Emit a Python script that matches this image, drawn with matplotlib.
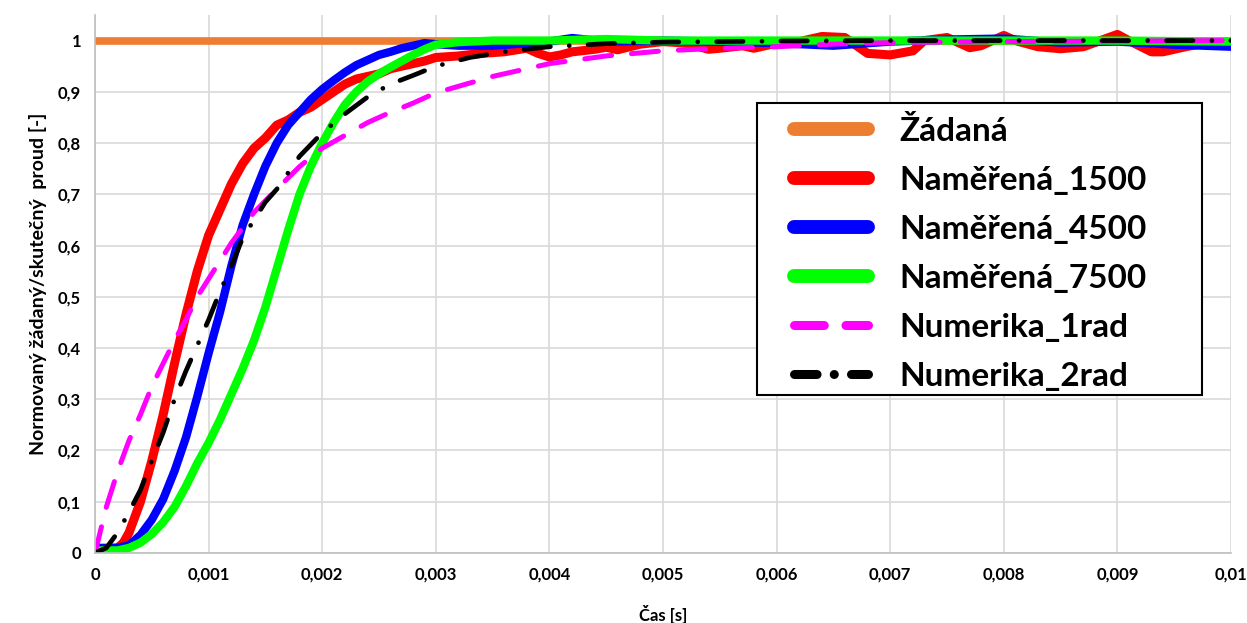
import numpy as np
import matplotlib
matplotlib.use("Agg")
import matplotlib.pyplot as plt
from matplotlib.lines import Line2D
from matplotlib.patches import Rectangle
from matplotlib.ticker import MultipleLocator, FuncFormatter

# =============================================================
# Daten
# =============================================================
t_zadana = [0.0, 0.01]
i_zadana = [1.0, 1.0]

t_1500 = [0, 0.0001, 0.0002, 0.00025, 0.0003, 0.0004, 0.0005, 0.0006, 0.0007, 0.0008,
          0.0009, 0.001, 0.0011, 0.0012, 0.0013, 0.0014, 0.0015, 0.0016, 0.0017, 0.0018,
          0.0019, 0.002, 0.0021, 0.0022, 0.0023, 0.0024, 0.0025, 0.0026, 0.0027, 0.0028,
          0.0029, 0.003, 0.0032, 0.0034, 0.0036, 0.0038, 0.0039, 0.004, 0.0041, 0.0042,
          0.0044, 0.0045, 0.0046, 0.0048, 0.005, 0.0052, 0.0054, 0.0055, 0.0057, 0.0058,
          0.006, 0.0062, 0.0064, 0.0066, 0.0068, 0.007, 0.0072, 0.0073, 0.0075, 0.0077,
          0.0078, 0.008, 0.0081, 0.0083, 0.0085, 0.0087, 0.009, 0.0091, 0.0093, 0.0094,
          0.0096, 0.0098, 0.01]
i_1500 = [0.005, 0.008, 0.01, 0.02, 0.04, 0.10, 0.18, 0.27, 0.37, 0.465,
          0.55, 0.62, 0.67, 0.72, 0.76, 0.79, 0.81, 0.835, 0.845, 0.86,
          0.87, 0.885, 0.90, 0.915, 0.925, 0.93, 0.935, 0.945, 0.95, 0.955,
          0.96, 0.967, 0.97, 0.975, 0.978, 0.985, 0.975, 0.968, 0.972, 0.978,
          0.983, 0.987, 0.982, 0.993, 0.998, 0.995, 0.983, 0.985, 0.99, 0.985,
          0.995, 0.998, 1.008, 1.006, 0.975, 0.972, 0.98, 1.0, 1.006, 0.986,
          0.99, 1.01, 1.0, 0.988, 0.984, 0.988, 1.012, 1.0, 0.978, 0.978,
          0.988, 0.996, 0.99]

t_4500 = [0, 0.0002, 0.0003, 0.0004, 0.0005, 0.0006, 0.0007, 0.0008, 0.0009, 0.001,
          0.0011, 0.0012, 0.0013, 0.0014, 0.0015, 0.0016, 0.0017, 0.0018, 0.0019, 0.002,
          0.0021, 0.0022, 0.0023, 0.0024, 0.0025, 0.0026, 0.0027, 0.0028, 0.0029, 0.003,
          0.0032, 0.0035, 0.004, 0.0042, 0.0045, 0.005, 0.0055, 0.006, 0.0063, 0.0065,
          0.007, 0.0075, 0.008, 0.0085, 0.009, 0.0095, 0.01]
i_4500 = [0.01, 0.01, 0.015, 0.035, 0.065, 0.105, 0.16, 0.225, 0.305, 0.39,
          0.47, 0.56, 0.64, 0.70, 0.755, 0.80, 0.835, 0.86, 0.885, 0.905,
          0.922, 0.938, 0.952, 0.962, 0.972, 0.978, 0.985, 0.99, 0.995, 0.993,
          0.99, 0.99, 0.998, 1.005, 0.998, 1.0, 0.998, 0.995, 0.992, 0.99,
          0.998, 1.002, 1.004, 0.996, 0.998, 0.992, 0.988]

t_7500 = [0, 0.0002, 0.0003, 0.0004, 0.0005, 0.0006, 0.0007, 0.0008, 0.0009, 0.001,
          0.0011, 0.0012, 0.0013, 0.0014, 0.0015, 0.0016, 0.0017, 0.0018, 0.0019, 0.002,
          0.0021, 0.0022, 0.0023, 0.0024, 0.0025, 0.0026, 0.0027, 0.0028, 0.0029, 0.003,
          0.0032, 0.0035, 0.004, 0.0045, 0.005, 0.006, 0.007, 0.008, 0.009, 0.01]
i_7500 = [0.005, 0.005, 0.01, 0.02, 0.037, 0.06, 0.09, 0.13, 0.175, 0.215,
          0.26, 0.31, 0.36, 0.415, 0.48, 0.555, 0.63, 0.70, 0.755, 0.80,
          0.84, 0.875, 0.90, 0.92, 0.935, 0.948, 0.96, 0.972, 0.983, 0.992,
          0.997, 1.0, 1.0, 1.003, 1.0, 1.0, 1.0, 1.0, 1.0, 0.998]

t_1rad = [0, 0.0001, 0.0002, 0.0003, 0.0004, 0.0005, 0.0006, 0.0007, 0.0008, 0.0009,
          0.001, 0.0012, 0.0014, 0.0016, 0.0018, 0.002, 0.0022, 0.0024, 0.0026, 0.0028,
          0.003, 0.0035, 0.004, 0.0045, 0.005, 0.0055, 0.006, 0.0065, 0.007, 0.008,
          0.009, 0.01]
i_1rad = [0, 0.09, 0.16, 0.22, 0.27, 0.325, 0.37, 0.415, 0.455, 0.50,
          0.535, 0.605, 0.665, 0.71, 0.754, 0.79, 0.815, 0.84, 0.86, 0.878,
          0.898, 0.93, 0.955, 0.97, 0.98, 0.985, 0.988, 0.993, 0.996, 0.998,
          0.999, 1.0]

t_2rad = [0, 0.0001, 0.0002, 0.0003, 0.0004, 0.0005, 0.0006, 0.0007, 0.0008, 0.0009,
          0.001, 0.0011, 0.0012, 0.0013, 0.0014, 0.0015, 0.0016, 0.0018, 0.002, 0.0022,
          0.0024, 0.0026, 0.0028, 0.003, 0.0033, 0.0036, 0.004, 0.0045, 0.005, 0.006,
          0.007, 0.01]
i_2rad = [0, 0.01, 0.04, 0.08, 0.123, 0.18, 0.235, 0.30, 0.355, 0.405,
          0.455, 0.51, 0.56, 0.615, 0.65, 0.685, 0.71, 0.774, 0.82, 0.857,
          0.89, 0.915, 0.932, 0.95, 0.967, 0.978, 0.988, 0.994, 0.997, 0.999,
          1.0, 1.0]

labels = ["Žádaná", "Naměřená_1500", "Naměřená_4500", "Naměřená_7500",
          "Numerika_1rad", "Numerika_2rad"]
colors = ["#ED7D31", "#FF0000", "#0000FF", "#00FF00", "#FF00FF", "#000000"]

# =============================================================
# Plot
# =============================================================
plt.rcParams['font.family'] = ['Lato', 'DejaVu Sans']
plt.rcParams['font.weight'] = 'bold'

fig = plt.figure(figsize=(12.47, 6.23), dpi=100)
ax = fig.add_axes([0.0762, 0.1124, 0.911, 0.8636])

dash_1rad = (0, (5.4, 4.0))
dashdot_2rad = (0, (5.6, 4.0, 0.01, 4.0))

ax.plot(t_zadana, i_zadana, color=colors[0], lw=5.5, solid_capstyle='butt')
ax.plot(t_1500, i_1500, color=colors[1], lw=6.5, solid_joinstyle='round')
ax.plot(t_4500, i_4500, color=colors[2], lw=6.0, solid_joinstyle='round')
ax.plot(t_7500, i_7500, color=colors[3], lw=6.0, solid_joinstyle='round')
ax.plot(t_1rad, i_1rad, color=colors[4], lw=3.6, linestyle=dash_1rad, dash_capstyle='round')
ax.plot(t_2rad, i_2rad, color=colors[5], lw=3.4, linestyle=dashdot_2rad, dash_capstyle='round')

ax.set_xlim(0, 0.01)
ax.set_ylim(0, 1.05)
ax.xaxis.set_major_locator(MultipleLocator(0.001))
ax.set_yticks(np.arange(0, 1.01, 0.1))

fmt = FuncFormatter(lambda v, p: f"{v:g}".replace(".", ","))
ax.xaxis.set_major_formatter(fmt)
ax.yaxis.set_major_formatter(fmt)
ax.tick_params(length=0, labelsize=12, pad=10)
for lbl in ax.get_xticklabels() + ax.get_yticklabels():
    lbl.set_fontweight('bold')

ax.grid(True, color="#d9d9d9", lw=1.2)
ax.set_axisbelow(True)
for s in ["top", "right"]:
    ax.spines[s].set_visible(False)
for s in ["left", "bottom"]:
    ax.spines[s].set_color("#bfbfbf")
    ax.spines[s].set_linewidth(1.2)

ax.set_xlabel("Čas [s]", fontsize=12, fontweight='bold', labelpad=16)
ax.set_ylabel("Normovaný žádaný/skutečný  proud [-]", fontsize=14, fontweight='bold', labelpad=8)

# Legende mit dickeren Linien, Rahmen separat gezeichnet
handles = [
    Line2D([], [], color=colors[0], lw=10, solid_capstyle='round'),
    Line2D([], [], color=colors[1], lw=10, solid_capstyle='round'),
    Line2D([], [], color=colors[2], lw=10, solid_capstyle='round'),
    Line2D([], [], color=colors[3], lw=10, solid_capstyle='round'),
    Line2D([], [], color=colors[4], lw=6.5, linestyle=(0, (3.3, 2.4)), dash_capstyle='round'),
    Line2D([], [], color=colors[5], lw=6.5, linestyle=(0, (2.5, 1.9, 0.01, 1.9)), dash_capstyle='round'),
]
leg = ax.legend(handles, labels, loc='upper left', bbox_to_anchor=(0.6153, 0.8124),
                borderaxespad=0, borderpad=0, handlelength=2.22, handletextpad=0.95,
                labelspacing=0.6, frameon=False, prop={'weight': 'bold', 'size': 24})
ax.add_patch(Rectangle((0.5827, 0.2937), 0.9745 - 0.5827, 0.8364 - 0.2937,
                       transform=ax.transAxes, fill=True, facecolor="white",
                       edgecolor="black", lw=1.5, zorder=4.5))
leg.set_zorder(5)

fig.savefig("out.png", dpi=100)
